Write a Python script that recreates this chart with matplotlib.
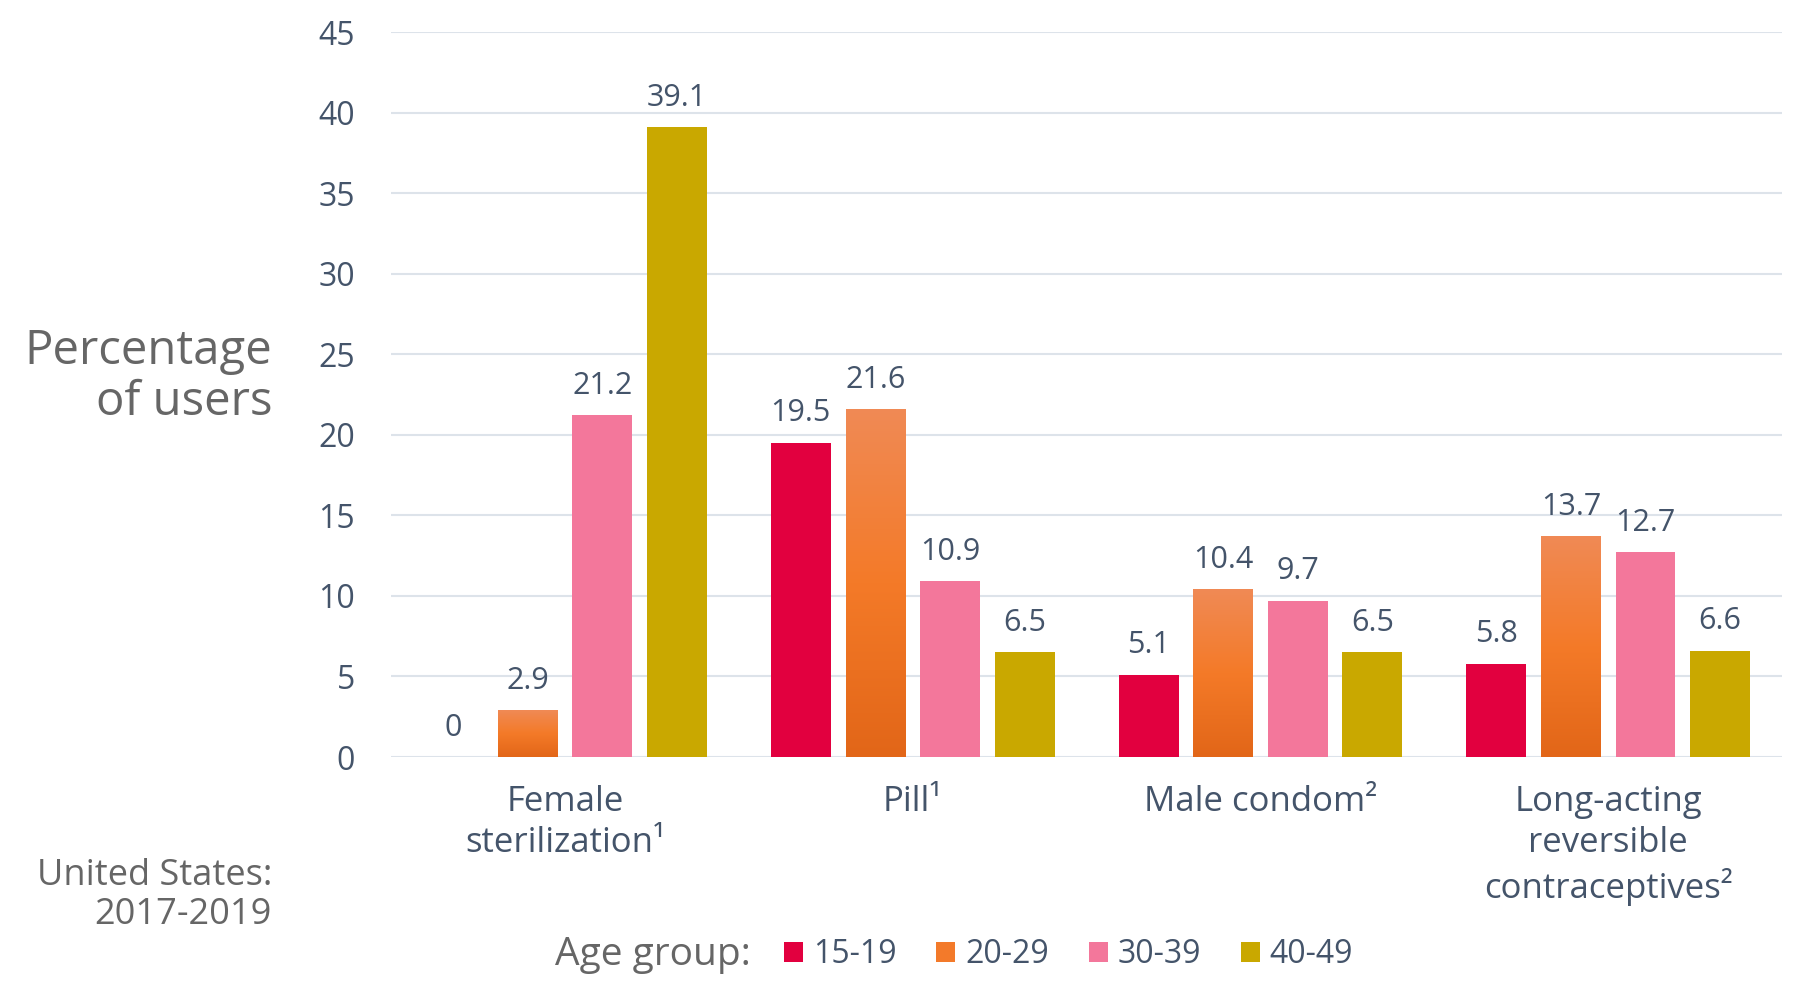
import numpy as np
import matplotlib
matplotlib.use("Agg")
import matplotlib.pyplot as plt
from matplotlib.colors import LinearSegmentedColormap
from matplotlib.patches import Patch

# ======================================
# DATA
# ======================================

methods = ["Female\nsterilization¹", "Pill¹", "Male condom²",
           "Long-acting\nreversible\ncontraceptives²"]
age_groups = ["15-19", "20-29", "30-39", "40-49"]

age_15_19 = [0, 19.5, 5.1, 5.8]
age_20_29 = [2.9, 21.6, 10.4, 13.7]
age_30_39 = [21.2, 10.9, 9.7, 12.7]
age_40_49 = [39.1, 6.5, 6.5, 6.6]

series = [age_15_19, age_20_29, age_30_39, age_40_49]
colors = ["#E2003F", "#F37A2A", "#F3779B", "#C9A800"]

plt.rcParams["font.family"] = ["Open Sans", "DejaVu Sans"]
SLATE = "#44546A"
GREY = "#666666"

# ======================================
# PLOT
# ======================================

fig = plt.figure(figsize=(18.02, 10.02), dpi=100)
ax = fig.add_axes([0.217, 0.2445, 0.772, 0.7235])

x = np.arange(len(methods))
step = 0.2145
width = 0.172
orange_cmap = LinearSegmentedColormap.from_list(
    "orange", ["#E26618", "#F47A28", "#F08A55"])
grad = np.linspace(0, 1, 256).reshape(-1, 1)

for i, (vals, col) in enumerate(zip(series, colors)):
    pos = x + (i - 1.5) * step
    bars = ax.bar(pos, vals, width, color=col, zorder=3)
    for b, v in zip(bars, vals):
        if i == 1:
            # orange bars carry a vertical gradient
            im = ax.imshow(grad, extent=[b.get_x(), b.get_x() + width, 0, v],
                           origin="lower", aspect="auto", cmap=orange_cmap,
                           zorder=4)
            im.set_clip_path(b)
        ax.text(b.get_x() + width / 2, v + 0.9, f"{v:g}", ha="center",
                va="bottom", fontsize=22, color=SLATE, zorder=5)

ax.set_xlim(-0.5, 3.5)
ax.set_ylim(0, 45)
ax.set_yticks(range(0, 46, 5))
ax.set_xticks(x)
ax.set_xticklabels(methods, fontsize=25, color=SLATE, linespacing=1.28)
ax.tick_params(axis="y", labelsize=23, labelcolor=SLATE, length=0, pad=26)
ax.tick_params(axis="x", length=0, pad=20)
ax.grid(axis="y", color="#DDE3EA", linewidth=1.5, zorder=0)
for s in ax.spines.values():
    s.set_visible(False)

fig.text(0.151, 0.624, "Percentage\nof users", ha="right", va="center",
         fontsize=34, color=GREY, linespacing=1.1)
fig.text(0.151, 0.106, "United States:\n2017-2019", ha="right", va="center",
         fontsize=26, color=GREY, linespacing=1.1)

# legend
fig.text(0.308, 0.047, "Age group:", ha="left", va="center",
         fontsize=28, color=GREY)
handles = [Patch(facecolor=c, edgecolor="none") for c in colors]
fig.legend(handles, age_groups, loc="center left",
           bbox_to_anchor=(0.435, 0.047), ncol=4, frameon=False,
           fontsize=23, labelcolor=SLATE, handlelength=0.6, handleheight=0.6,
           handletextpad=0.3, columnspacing=1.25, borderpad=0, borderaxespad=0)

fig.savefig("out.png", dpi=100)
